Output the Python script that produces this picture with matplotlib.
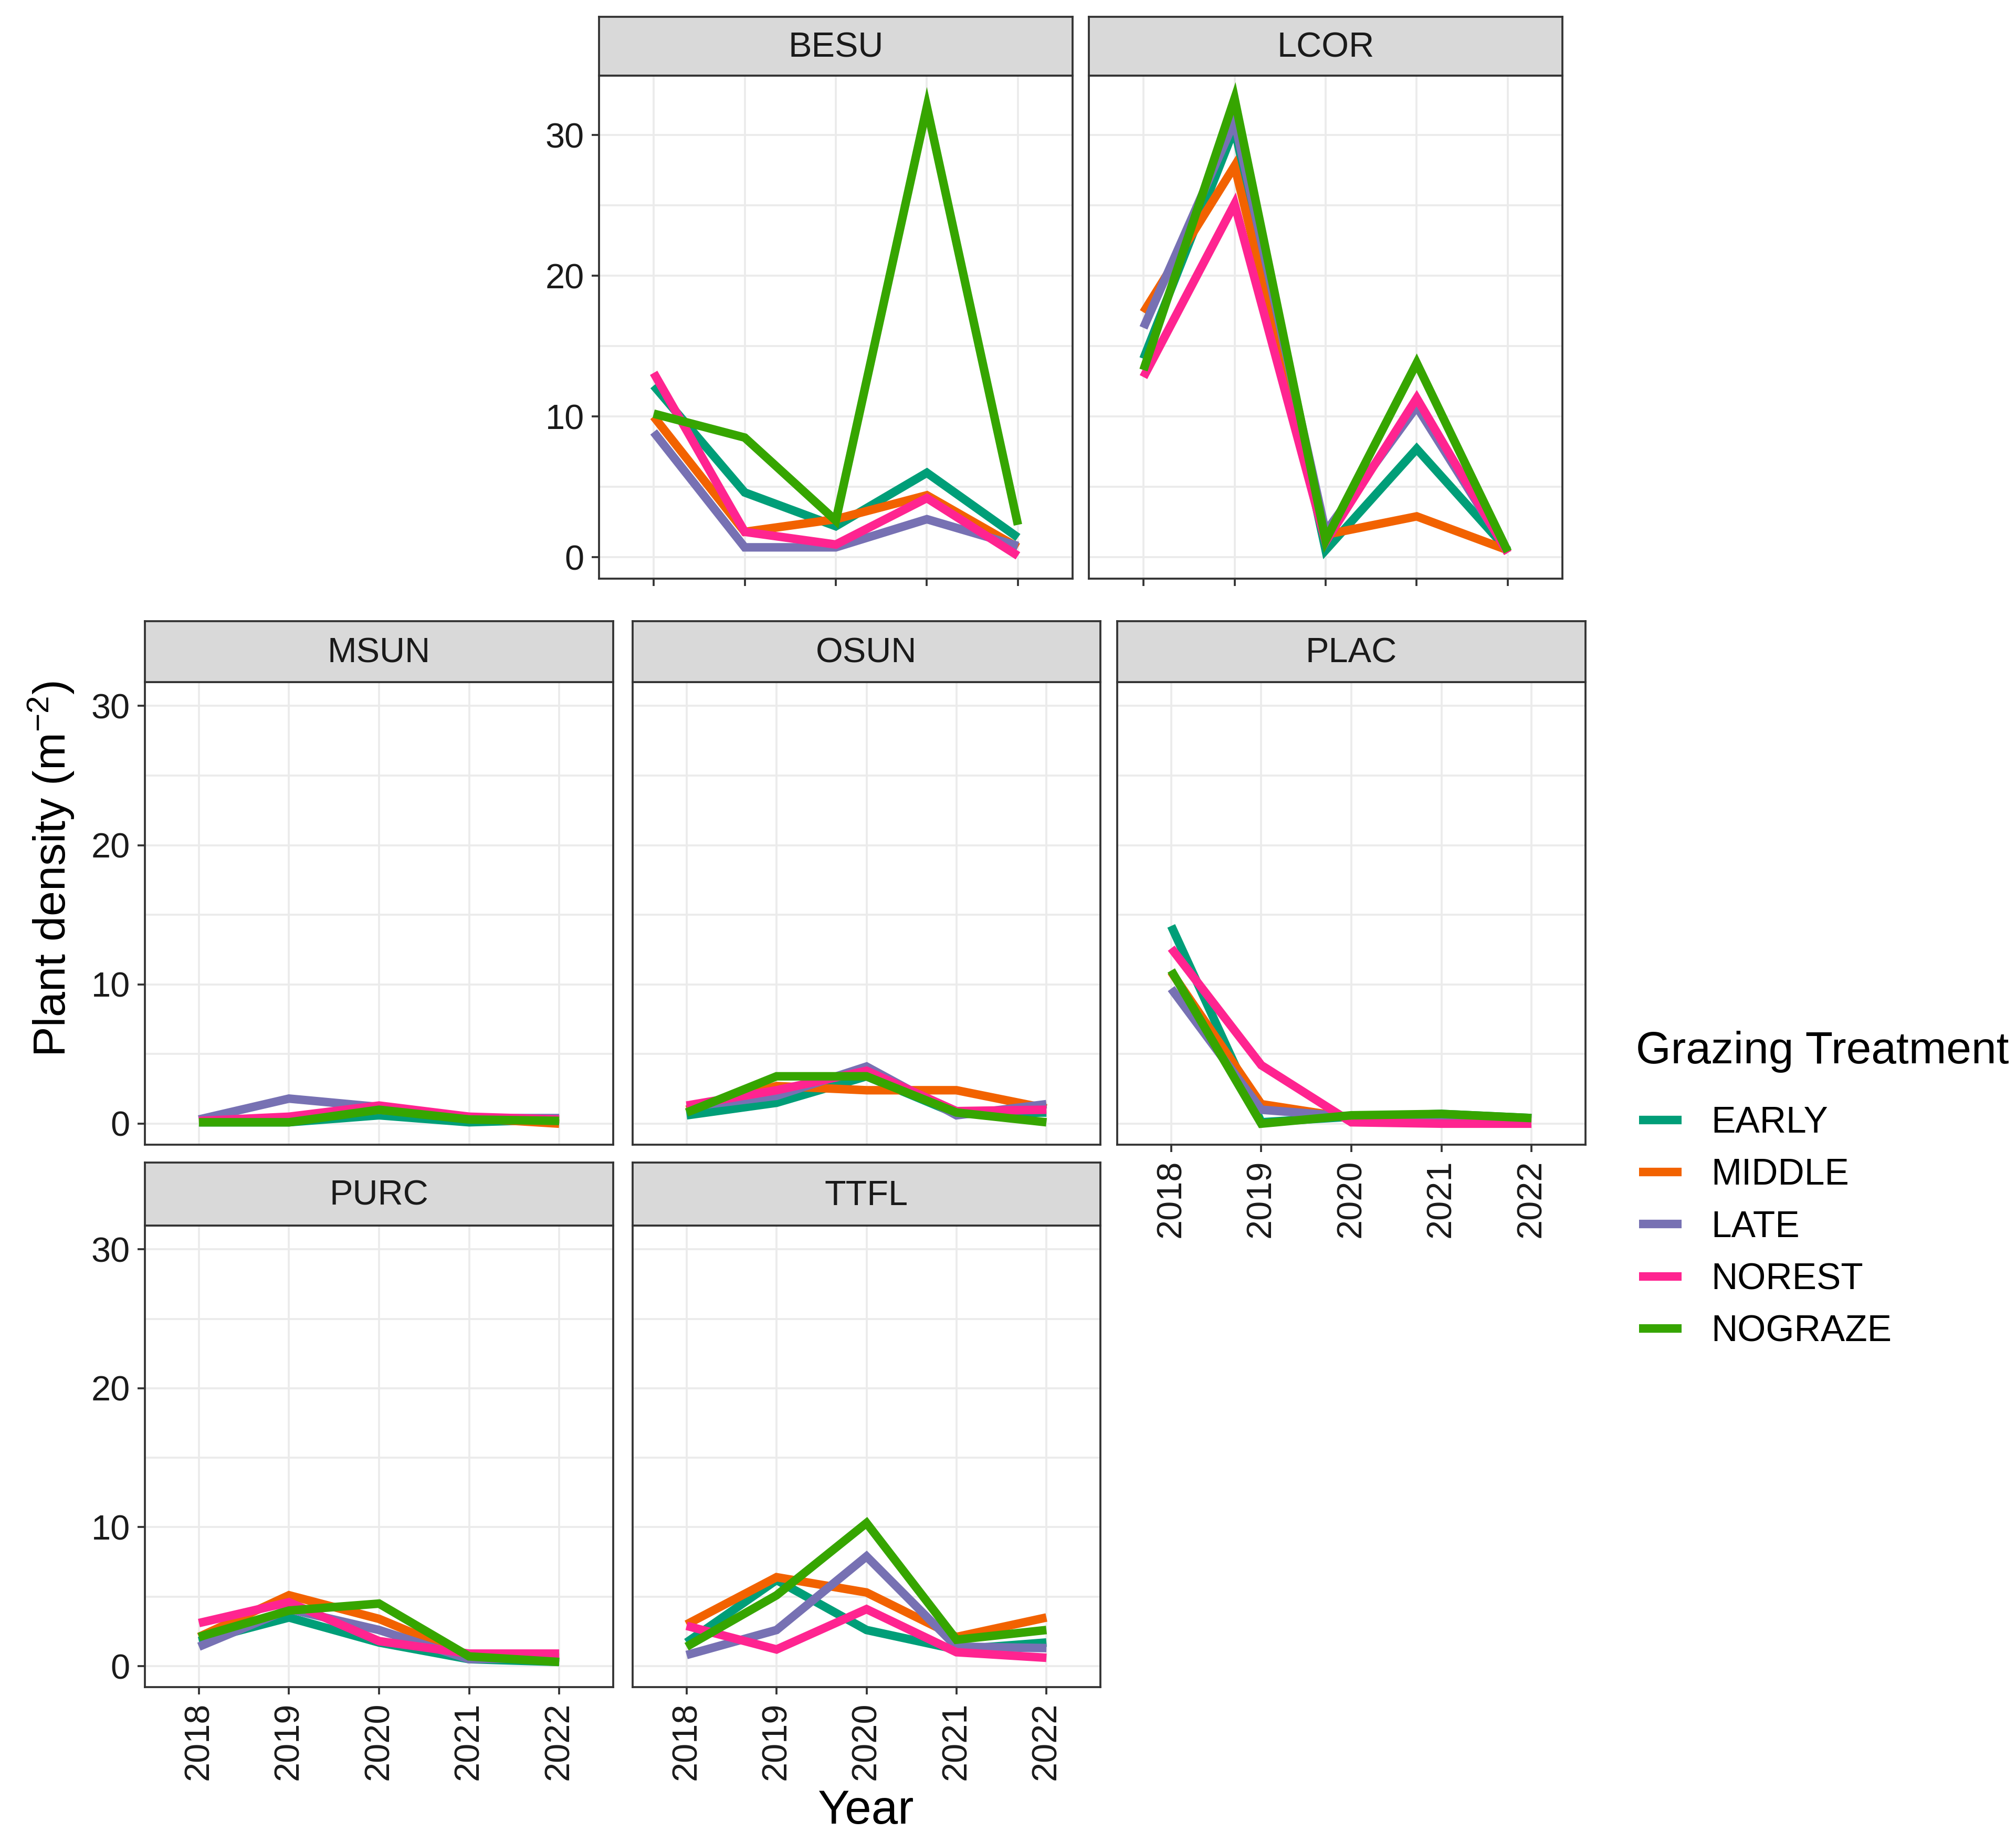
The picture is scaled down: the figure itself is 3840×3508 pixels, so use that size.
import matplotlib
matplotlib.use("Agg")
import matplotlib.pyplot as plt
from matplotlib.lines import Line2D
from matplotlib.ticker import FixedLocator

plt.rcParams['font.family'] = ['Liberation Sans', 'DejaVu Sans']
plt.rcParams['mathtext.fontset'] = 'custom'
plt.rcParams['mathtext.rm'] = 'Liberation Sans'
plt.rcParams['mathtext.it'] = 'Liberation Sans:italic'
plt.rcParams['mathtext.bf'] = 'Liberation Sans:bold'

# ---------------- data ----------------
years = ["2018", "2019", "2020", "2021", "2022"]
treatments = ["EARLY", "MIDDLE", "LATE", "NOREST", "NOGRAZE"]
colors = ["#009E78", "#F26200", "#7771B3", "#FF2490", "#36A500"]

# rows follow `treatments`, columns follow `years`
besu = [
    [12.2, 4.6, 2.2, 6.0, 1.4],
    [10.0, 1.8, 2.7, 4.4, 0.7],
    [8.9, 0.7, 0.7, 2.7, 0.8],
    [13.1, 1.8, 0.9, 4.2, 0.1],
    [10.2, 8.5, 2.6, 32.0, 2.3],
]
lcor = [
    [14.1, 30.5, 0.5, 7.7, 0.5],
    [17.4, 27.8, 1.6, 2.9, 0.5],
    [16.3, 31.0, 1.8, 10.7, 0.4],
    [12.8, 25.1, 1.1, 11.3, 0.3],
    [13.3, 32.6, 1.2, 13.8, 0.4],
]
msun = [
    [0.1, 0.1, 0.6, 0.1, 0.3],
    [0.2, 0.3, 1.0, 0.4, 0.0],
    [0.3, 1.8, 1.2, 0.4, 0.4],
    [0.2, 0.5, 1.3, 0.5, 0.3],
    [0.1, 0.1, 1.0, 0.3, 0.2],
]
osun = [
    [0.6, 1.5, 3.4, 0.7, 0.8],
    [1.0, 2.7, 2.4, 2.4, 1.1],
    [1.2, 2.0, 4.1, 0.6, 1.4],
    [1.3, 2.4, 3.8, 0.9, 1.0],
    [0.8, 3.4, 3.4, 0.8, 0.1],
]
plac = [
    [14.2, 0.1, 0.5, 0.7, 0.4],
    [10.9, 1.4, 0.4, 0.3, 0.2],
    [9.7, 1.0, 0.5, 0.4, 0.3],
    [12.6, 4.2, 0.1, 0.0, 0.0],
    [11.0, 0.0, 0.6, 0.7, 0.4],
]
purc = [
    [1.8, 3.5, 1.7, 0.5, 0.3],
    [2.1, 5.1, 3.4, 0.7, 0.6],
    [1.4, 4.1, 2.6, 0.5, 0.6],
    [3.1, 4.6, 1.8, 0.9, 0.9],
    [2.1, 4.0, 4.5, 0.7, 0.3],
]
ttfl = [
    [1.7, 6.2, 2.6, 1.2, 1.7],
    [3.0, 6.4, 5.3, 2.1, 3.5],
    [0.8, 2.6, 7.9, 1.4, 1.3],
    [2.9, 1.2, 4.1, 1.0, 0.6],
    [1.4, 5.1, 10.3, 1.9, 2.6],
]
y_ticks = [0, 10, 20, 30]
y_minor = [5, 15, 25]
lower_limits = (0.0, 30.2)   # fixed y scale limits of the lower plot

# ---------------- layout ----------------
W, H = 3840, 3508
DPI = 300
fig = plt.figure(figsize=(W / DPI, H / DPI), dpi=DPI)


def rect(x0, x1, y0, y1):
    return [x0 / W, 1 - y1 / H, (x1 - x0) / W, (y1 - y0) / H]


def expand(lo, hi):
    r = hi - lo
    return lo - 0.05 * r, hi + 0.05 * r


top_vals = [v for d in (besu, lcor) for row in d for v in row]
top_ylim = expand(min(top_vals), max(top_vals))
low_ylim = expand(*lower_limits)

# name, data, x0, x1, strip_top, panel_top, panel_bottom, y labels, x ticks, x labels, ylim
panels = [
    ("BESU", besu, 1141, 2043, 32, 144, 1102, True, True, False, top_ylim),
    ("LCOR", lcor, 2074, 2976, 32, 144, 1102, False, True, False, top_ylim),
    ("MSUN", msun, 276, 1168, 1183, 1299, 2180, True, False, False, low_ylim),
    ("OSUN", osun, 1205, 2096, 1183, 1299, 2180, False, False, False, low_ylim),
    ("PLAC", plac, 2128, 3020, 1183, 1299, 2180, False, True, True, low_ylim),
    ("PURC", purc, 276, 1168, 2214, 2334, 3213, True, True, True, low_ylim),
    ("TTFL", ttfl, 1205, 2096, 2214, 2334, 3213, False, True, True, low_ylim),
]

frame_col = "#333333"
grid_col = "#EBEBEB"
xpos = list(range(len(years)))

for name, data, x0, x1, st, pt, pb, show_y, show_xt, show_xl, ylim in panels:
    ax = fig.add_axes(rect(x0, x1, pt, pb))
    ax.set_facecolor("white")
    for i, tr in enumerate(treatments):
        ax.plot(xpos, data[i], color=colors[i], lw=3.9,
                solid_joinstyle="miter", solid_capstyle="butt", zorder=3)
    ax.set_xlim(-0.6, len(years) - 1 + 0.6)
    ax.set_ylim(*ylim)
    ax.xaxis.set_major_locator(FixedLocator(xpos))
    ax.yaxis.set_major_locator(FixedLocator(y_ticks))
    ax.yaxis.set_minor_locator(FixedLocator(y_minor))
    ax.grid(True, which="major", color=grid_col, lw=0.9, zorder=0)
    ax.grid(True, which="minor", axis="y", color=grid_col, lw=0.9, zorder=0)
    ax.set_axisbelow(True)
    ax.tick_params(which="minor", length=0)
    ax.tick_params(axis="both", which="major", length=3.4, width=0.9,
                   color=frame_col, labelsize=16, labelcolor="#1A1A1A", pad=3.4)
    if show_y:
        ax.set_yticklabels([str(t) for t in y_ticks])
    else:
        ax.tick_params(axis="y", which="major", length=0, labelleft=False)
    if show_xt:
        if show_xl:
            ax.set_xticklabels(years, rotation=90, va="top", ha="center")
        else:
            ax.tick_params(axis="x", labelbottom=False)
    else:
        ax.tick_params(axis="x", length=0, labelbottom=False)
    for sp in ax.spines.values():
        sp.set_color(frame_col)
        sp.set_linewidth(0.9)
        sp.set_zorder(5)

    sax = fig.add_axes(rect(x0, x1, st, pt))
    sax.set_facecolor("#D9D9D9")
    sax.set_xticks([])
    sax.set_yticks([])
    for sp in sax.spines.values():
        sp.set_color(frame_col)
        sp.set_linewidth(0.9)
    sax.text(0.5, 0.47, name, transform=sax.transAxes, ha="center", va="center",
             fontsize=16, color="#1A1A1A")

# axis titles
fig.text(1649 / W, 1 - 3450 / H, "Year", ha="center", va="center", fontsize=21.8)
fig.text(97 / W, 1 - 1655 / H, "Plant density (m$^{-2}$)", ha="center", va="center",
         rotation=90, fontsize=20.7)

# legend
fig.text(3116 / W, 1 - 2025 / H, "Grazing Treatment", ha="left", va="baseline",
         fontsize=20.6)
handles = [Line2D([], [], color=c, lw=3.9, solid_capstyle="butt") for c in colors]
leg = fig.legend(handles, treatments, loc="upper left",
                 bbox_to_anchor=(3122 / W, 1 - 2106 / H), frameon=False,
                 fontsize=16.7, handlelength=1.17, handletextpad=0.8,
                 labelspacing=0.48, borderaxespad=0, borderpad=0)

fig.savefig("out.png", dpi=DPI, facecolor="white")
